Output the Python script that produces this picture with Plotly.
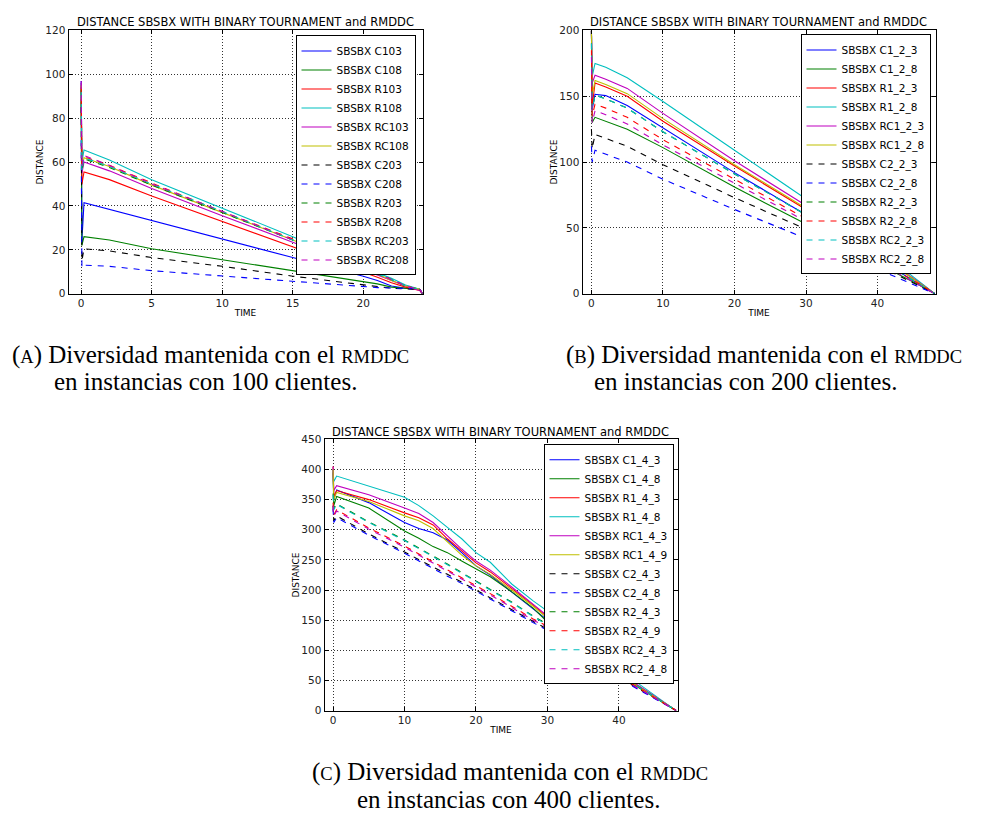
import plotly.graph_objects as go

# ---------------- DATA ----------------
# Panel A (100 clientes)
A_TIME = [0, 0.05, 0.2, 2, 5, 10, 15, 20, 21, 22, 23, 24, 24.2]
A_NAMES = ["SBSBX C103", "SBSBX C108", "SBSBX R103", "SBSBX R108", "SBSBX RC103", "SBSBX RC108",
           "SBSBX C203", "SBSBX C208", "SBSBX R203", "SBSBX R208", "SBSBX RC203", "SBSBX RC208"]
A_C103 = [97, 24, 41.5, 38.5, 33.5, 25, 16.5, 8, 6, 3.5, 2.5, 2, 0]
A_C108 = [90, 22, 26, 24.5, 20.5, 15.5, 10.5, 5.5, 4.5, 3, 2.5, 2, 0]
A_R103 = [95, 50, 55.5, 52, 44.5, 33, 21.5, 10, 7.5, 5, 3, 1.5, 0]
A_R108 = [96, 60, 65.5, 61, 52, 39, 26, 12.5, 9.5, 7, 4, 2, 0]
A_RC103 = [97, 55, 60, 56, 48, 35.5, 23.5, 11, 8.5, 6, 3.5, 1.5, 0]
A_RC108 = [95, 57, 62, 58, 49.5, 37, 24.5, 11.5, 9, 6, 3.5, 2, 0]
A_C203 = [85, 15, 20.5, 19.5, 16.5, 12.5, 8, 4, 3, 2.5, 2.2, 2, 0]
A_C208 = [70, 12, 13, 12.5, 10.5, 8, 5.5, 3, 2.8, 2.6, 2.5, 2.2, 0]
A_R203 = [93, 56, 61.5, 57.5, 49.5, 37, 24.5, 11.5, 9, 6.5, 3.5, 2, 0]
A_R208 = [94, 57, 62.5, 58.5, 50.5, 37.5, 25, 12, 9.5, 6.5, 3.5, 2, 0]
A_RC203 = [92, 56, 62, 58, 50, 37.5, 24.5, 11.5, 9, 6.5, 3.5, 2, 0]
A_RC208 = [96, 58, 63, 58.5, 50, 37.5, 24.5, 11.5, 9, 6.5, 3.5, 2, 0]
A_SERIES = [A_C103, A_C108, A_R103, A_R108, A_RC103, A_RC108,
            A_C203, A_C208, A_R203, A_R208, A_RC203, A_RC208]

# Panel B (200 clientes)
B_TIME = [0, 0.1, 0.5, 2, 5, 10, 20, 30, 40, 46, 48]
B_NAMES = ["SBSBX C1_2_3", "SBSBX C1_2_8", "SBSBX R1_2_3", "SBSBX R1_2_8", "SBSBX RC1_2_3", "SBSBX RC1_2_8",
           "SBSBX C2_2_3", "SBSBX C2_2_8", "SBSBX R2_2_3", "SBSBX R2_2_8", "SBSBX RC2_2_3", "SBSBX RC2_2_8"]
B_C1_2_3 = [200, 140, 151.5, 150.5, 143, 126, 92, 60, 27, 7, 0]
B_C1_2_8 = [200, 130, 134, 131, 125, 111, 81, 53, 23, 6, 0]
B_R1_2_3 = [200, 142, 160, 157, 150, 131, 97, 64, 29, 8, 0]
B_R1_2_8 = [200, 165, 175, 172, 164, 146, 109, 72, 34, 9, 0]
B_RC1_2_3 = [200, 160, 166, 163, 156, 137, 101, 67, 31, 8, 0]
B_RC1_2_8 = [200, 150, 162, 159, 152, 133, 98, 65, 30, 8, 0]
B_C2_2_3 = [125, 110, 121, 118, 112, 98, 73, 49, 22, 6, 0]
B_C2_2_8 = [112, 100, 109, 106, 100, 87, 64, 42, 19, 5, 0]
B_R2_2_3 = [190, 140, 151, 148, 141, 123, 91, 60, 27, 7, 0]
B_R2_2_8 = [185, 135, 144, 141, 134, 117, 87, 57, 25, 7, 0]
B_RC2_2_3 = [190, 140, 151, 148, 141, 123, 91, 60, 27, 7, 0]
B_RC2_2_8 = [180, 130, 139, 136, 129, 113, 84, 55, 24, 6, 0]
B_SERIES = [B_C1_2_3, B_C1_2_8, B_R1_2_3, B_R1_2_8, B_RC1_2_3, B_RC1_2_8,
            B_C2_2_3, B_C2_2_8, B_R2_2_3, B_R2_2_8, B_RC2_2_3, B_RC2_2_8]

# Panel C (400 clientes)
C_TIME = [0, 0.1, 0.5, 5, 10, 12, 14, 16, 18, 20, 22, 25, 28, 30, 40, 48]
C_NAMES = ["SBSBX C1_4_3", "SBSBX C1_4_8", "SBSBX R1_4_3", "SBSBX R1_4_8", "SBSBX RC1_4_3", "SBSBX RC1_4_9",
           "SBSBX C2_4_3", "SBSBX C2_4_8", "SBSBX R2_4_3", "SBSBX R2_4_9", "SBSBX RC2_4_3", "SBSBX RC2_4_8"]
C_C1_4_3 = [400, 350, 366, 345, 312, 302, 295, 283, 262, 240, 225, 197, 170, 150, 60, 0]
C_C1_4_8 = [395, 340, 355, 336, 298, 286, 272, 262, 248, 235, 222, 197, 170, 147, 58, 0]
C_R1_4_3 = [405, 355, 365, 350, 328, 320, 308, 285, 265, 245, 230, 203, 175, 155, 62, 0]
C_R1_4_8 = [400, 380, 389, 373, 354, 340, 323, 304, 285, 262, 246, 210, 182, 165, 68, 0]
C_RC1_4_3 = [405, 365, 373, 358, 336, 327, 312, 290, 268, 248, 233, 205, 177, 157, 63, 0]
C_RC1_4_9 = [400, 350, 362, 347, 323, 315, 302, 280, 258, 240, 226, 200, 173, 153, 60, 0]
C_C2_4_3 = [340, 315, 323, 293, 263, 250, 238, 226, 213, 200, 187, 167, 147, 135, 55, 0]
C_C2_4_8 = [335, 312, 320, 291, 261, 248, 236, 223, 211, 198, 185, 165, 145, 133, 53, 0]
C_R2_4_3 = [360, 335, 343, 313, 283, 270, 257, 243, 229, 215, 201, 180, 157, 143, 60, 0]
C_R2_4_9 = [345, 325, 333, 303, 273, 260, 247, 234, 220, 207, 194, 173, 152, 140, 57, 0]
C_RC2_4_3 = [358, 333, 342, 312, 282, 269, 256, 242, 228, 214, 200, 179, 156, 142, 60, 0]
C_RC2_4_8 = [340, 323, 331, 301, 271, 258, 245, 232, 218, 205, 192, 171, 150, 138, 56, 0]
C_SERIES = [C_C1_4_3, C_C1_4_8, C_R1_4_3, C_R1_4_8, C_RC1_4_3, C_RC1_4_9,
            C_C2_4_3, C_C2_4_8, C_R2_4_3, C_R2_4_9, C_RC2_4_3, C_RC2_4_8]

TITLE = "DISTANCE SBSBX WITH BINARY TOURNAMENT and RMDDC"

# ---------------- STYLE ----------------
COLORS = ["#0000ff", "#008000", "#ff0000", "#00bfbf", "#bf00bf", "#bfbf00",
          "#000000", "#0000ff", "#008000", "#ff0000", "#00bfbf", "#bf00bf"]
DASHES = ["solid"] * 6 + ["6px,6px"] * 6
FONT = "DejaVu Sans"

fig = go.Figure()

panels = [
    (A_TIME, A_SERIES, A_NAMES, "x", "y", "legend"),
    (B_TIME, B_SERIES, B_NAMES, "x2", "y2", "legend2"),
    (C_TIME, C_SERIES, C_NAMES, "x3", "y3", "legend3"),
]
for t, series, names, xa, ya, lg in panels:
    for i, (vals, nm) in enumerate(zip(series, names)):
        fig.add_trace(go.Scatter(
            x=t, y=vals, name=nm, mode="lines", xaxis=xa, yaxis=ya, legend=lg,
            line=dict(color=COLORS[i], width=1.1, dash=DASHES[i]),
        ))

W, H = 984, 815
OFFX = 8.5     # page offset of the figure, horizontal
OFFY = 12.5    # page offset of the figure, vertical
SY = 0.988


def px(xp):
    return (xp - OFFX) / W


def py(yp):
    return 1 - ((yp - OFFY) / SY) / H


axis_common = dict(
    showline=True, linecolor="black", linewidth=1, mirror="allticks",
    ticks="inside", ticklen=4, tickcolor="black",
    showgrid=True, gridcolor="#333", gridwidth=1, griddash="1px,2px",
    zeroline=False, tickfont=dict(family=FONT, size=10.5, color="#222"),
)

xdom = {"A": [px(69), px(423)], "B": [px(583), px(936)], "C": [px(325), px(678)]}
ydomAB = [py(293), py(29)]
ydomC = [py(711), py(439)]

fig.update_layout(
    width=W, height=H, margin=dict(l=0, r=0, t=0, b=0),
    paper_bgcolor="white", plot_bgcolor="white", showlegend=True,
    font=dict(family=FONT, color="black"),
    xaxis=dict(domain=xdom["A"], anchor="y", range=[-0.9, 24.2], tickvals=[0, 5, 10, 15, 20],
               title=dict(text="TIME", font=dict(size=9), standoff=1), **axis_common),
    yaxis=dict(domain=ydomAB, anchor="x", range=[0, 120], tickvals=list(range(0, 121, 20)),
               title=dict(text="DISTANCE", font=dict(size=9), standoff=0), **axis_common),
    xaxis2=dict(domain=xdom["B"], anchor="y2", range=[-1.25, 48.1], tickvals=[0, 10, 20, 30, 40],
                title=dict(text="TIME", font=dict(size=9), standoff=1), **axis_common),
    yaxis2=dict(domain=ydomAB, anchor="x2", range=[0, 200], tickvals=list(range(0, 201, 50)),
                title=dict(text="DISTANCE", font=dict(size=9), standoff=0), **axis_common),
    xaxis3=dict(domain=xdom["C"], anchor="y3", range=[-1.2, 48.2], tickvals=[0, 10, 20, 30, 40],
                title=dict(text="TIME", font=dict(size=9), standoff=1), **axis_common),
    yaxis3=dict(domain=ydomC, anchor="x3", range=[0, 450], tickvals=list(range(0, 451, 50)),
                title=dict(text="DISTANCE", font=dict(size=9), standoff=0), **axis_common),
)

leg_common = dict(bgcolor="white", bordercolor="black", borderwidth=1,
                  font=dict(family=FONT, size=10.5, color="black"),
                  tracegroupgap=0, itemwidth=30, xanchor="right", yanchor="top",
                  traceorder="normal")
fig.update_layout(
    legend=dict(x=px(416), y=py(34), **leg_common),
    legend2=dict(x=px(931), y=py(33), **leg_common),
    legend3=dict(x=px(674), y=py(444), **leg_common),
)

# titles (top ones pinned to the top edge of the figure)
for cx, yy, anc in [(246, 1.0, "top"), (759, 1.0, "top"), (501, py(432), "middle")]:
    fig.add_annotation(x=px(cx), y=yy, xref="paper", yref="paper", text=TITLE,
                       showarrow=False, font=dict(family=FONT, size=11.5, color="black"),
                       xanchor="center", yanchor=anc, borderpad=0)

# captions
SERIF = "Liberation Serif"
SC = "<span style='font-size:18.5px'>{}</span>"
caps = [
    (211, 354, "(" + SC.format("A") + ") Diversidad mantenida con el " + SC.format("RMDDC")),
    (206, 381, "en instancias con 100 clientes."),
    (764, 354, "(" + SC.format("B") + ") Diversidad mantenida con el " + SC.format("RMDDC")),
    (746, 381, "en instancias con 200 clientes."),
    (510, 773, "(" + SC.format("C") + ") Diversidad mantenida con el " + SC.format("RMDDC")),
    (509, 800, "en instancias con 400 clientes."),
]
for cx, cy, txt in caps:
    fig.add_annotation(x=px(cx), y=py(cy), xref="paper", yref="paper", text=txt,
                       showarrow=False, font=dict(family=SERIF, size=25, color="black"),
                       xanchor="center", yanchor="middle")

fig.write_html("out.html")
